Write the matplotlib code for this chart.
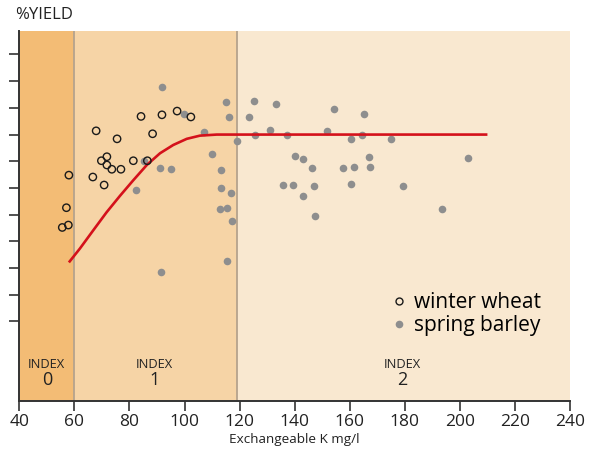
import numpy as np
import matplotlib.pyplot as plt
from matplotlib.lines import Line2D

plt.rcParams['font.family'] = ['Open Sans', 'DejaVu Sans']

# winter wheat (open circles)
wheat_k = [58.0, 57.1, 55.6, 57.8, 67.9, 66.7, 70.8, 69.8, 71.8, 71.8,
           73.6, 75.5, 76.9, 81.4, 84.2, 86.5, 88.4, 91.8, 97.3, 102.3]
wheat_yield = [84.8, 72.6, 65.2, 66.1, 101.4, 84.1, 81.1, 90.2, 91.7, 88.6,
               87.0, 98.4, 87.0, 90.2, 106.8, 90.2, 100.3, 107.4, 108.8, 106.6]

# spring barley (grey dots)
barley_k = [91.7, 85.4, 91.2, 95.0, 82.4, 99.8, 114.9, 116.0, 107.2, 110.1,
            113.2, 113.2, 116.9, 113.0, 115.5, 117.3, 119.2, 125.3, 123.3, 133.1,
            125.5, 130.9, 137.1, 140.1, 143.0, 135.9, 139.3, 142.9, 146.3, 147.1,
            147.4, 154.3, 165.1, 151.8, 160.4, 164.3, 175.1, 157.5, 161.6, 166.9,
            167.5, 160.4, 179.2, 193.4, 203.0, 91.6, 115.5]
barley_yield = [117.9, 90.1, 87.5, 87.1, 79.2, 107.6, 112.3, 106.4, 100.8, 92.7,
                86.6, 80.0, 78.0, 72.2, 72.4, 67.7, 97.7, 112.4, 106.4, 111.3,
                99.7, 101.7, 99.7, 91.8, 90.8, 81.1, 81.1, 77.1, 87.6, 80.8,
                69.6, 109.7, 107.7, 101.4, 98.2, 99.7, 98.2, 87.5, 87.9, 91.7,
                87.8, 81.3, 80.8, 72.1, 91.3, 48.4, 52.7]

# response curve
curve_k = [58.0, 62.0, 66.9, 71.7, 76.6, 81.4, 86.3, 91.1, 95.9, 100.8,
           105.6, 111.7, 118.9, 210.0]
curve_yield = [52.1, 57.3, 64.2, 70.9, 77.1, 82.9, 88.6, 93.0, 96.1, 98.4,
               99.6, 100.0, 100.0, 100.0]

# index bands (drawn edges as they sit in the original)
band_edges = [40, 60, 119, 240]
band_colors = ['#f3bc75', '#f6d4a6', '#f9e8d0']
index_labels = ['0', '1', '2']
index_x = [50, 89, 179]

fig = plt.figure(figsize=(5.89, 4.5), dpi=100)
ax = fig.add_axes([0.0328, 0.1078, 0.9350, 0.8233])

for i in range(3):
    ax.axvspan(band_edges[i], band_edges[i + 1], color=band_colors[i], lw=0, zorder=0)
for e in band_edges[1:3]:
    ax.axvline(e, color='#b5a38d', lw=1.3, zorder=1)

ax.plot(curve_k, curve_yield, color='#d4111b', lw=1.9, zorder=3,
        solid_capstyle='butt')
ax.scatter(barley_k, barley_yield, s=30, color='#8e8e8e', lw=0, zorder=2)
ax.scatter(wheat_k, wheat_yield, s=28, facecolor='none', edgecolor='#1a1a1a',
           lw=1.0, zorder=4)

for lab, xc in zip(index_labels, index_x):
    ax.text(xc, 14, 'INDEX', ha='center', va='center', fontsize=9.3, color='#222222')
    ax.text(xc, 8.2, lab, ha='center', va='center', fontsize=13, color='#222222')

handles = [
    Line2D([], [], ls='none', marker='o', mfc='none', mec='#1a1a1a', mew=1.0, ms=5),
    Line2D([], [], ls='none', marker='o', mfc='#8e8e8e', mec='none', ms=5.5),
]
ax.legend(handles, ['winter wheat', 'spring barley'], loc='center left',
          bbox_to_anchor=(0.6706, 0.236), frameon=False, fontsize=15,
          handletextpad=0.2, handlelength=1.0, labelspacing=0.12,
          borderpad=0, borderaxespad=0)

ax.set_xlim(40, 240)
ax.set_ylim(0, 138.8)
ax.set_xticks(range(40, 241, 20))
ax.set_yticks(range(30, 131, 10))
ax.set_yticklabels([])
ax.tick_params(axis='x', length=7, width=1.2, labelsize=12.5, color='#333333',
               labelcolor='#222222', pad=2)
ax.tick_params(axis='y', length=7, width=1.2, color='#333333')
for s in ['top', 'right']:
    ax.spines[s].set_visible(False)
for s in ['left', 'bottom']:
    ax.spines[s].set_linewidth(1.4)
    ax.spines[s].set_color('#333333')

ax.set_xlabel('Exchangeable K mg/l', fontsize=9.7, color='#222222', labelpad=2)
fig.text(0.025, 0.967, '%YIELD', fontsize=12, color='#222222', va='center')

fig.savefig('out.png', dpi=100)
